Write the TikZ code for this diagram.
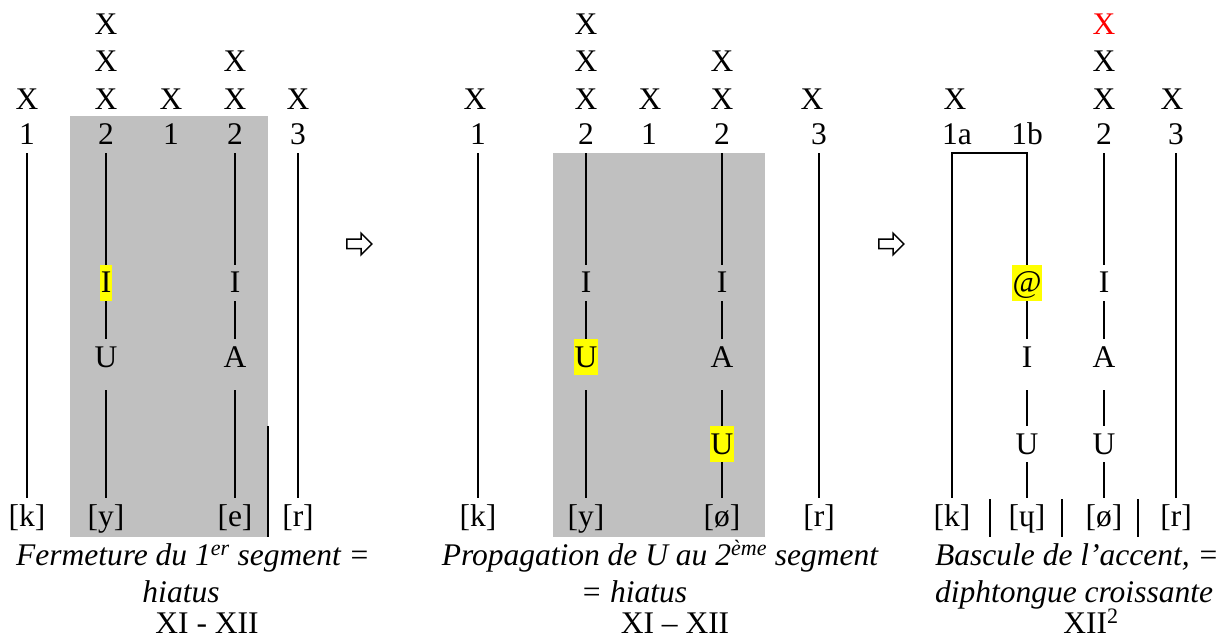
\documentclass[tikz,border=0pt]{standalone}
\usepackage{fontspec}
\setmainfont{Liberation Serif}
\usepackage{tikz}
\usetikzlibrary{shapes.arrows,calc}
\definecolor{Shade}{HTML}{C0C0C0}
\definecolor{Mark}{HTML}{FFFF00}
\definecolor{Accent}{HTML}{FF0000}

\begin{document}
\begin{tikzpicture}[x=1pt,y=-1pt,
  seg/.style={inner xsep=0.5pt,inner ysep=0pt,text height=28pt,text depth=8pt,anchor=base,font=\fontsize{31.5}{36}\selectfont},
  legend/.style={inner sep=0pt,anchor=base,font=\fontsize{31.5}{36}\selectfont\itshape},
  hl/.style={fill=Mark},
  stem/.style={line width=2pt},
  low/.style={shorten <=15pt},
  shade/.style={fill=Shade,draw=none},
  go/.style={single arrow,draw,line width=1.5pt,inner xsep=0pt,inner ysep=4pt,minimum height=25pt,single arrow head extend=6pt}
]
  \useasboundingbox (0,0) rectangle (1231,644);

  % panel 1
  \fill[shade] (70,116) rectangle (268,537);
  \draw[stem] (268,426) -- (268,537);
  \node[seg] (a1x) at (27,110) {X};
  \node[seg] (a2x) at (106,110) {X};
  \node[seg] (a2xx) at (106,72) {X};
  \node[seg] (a2xxx) at (106,35) {X};
  \node[seg] (a3x) at (171,110) {X};
  \node[seg] (a4x) at (235,110) {X};
  \node[seg] (a4xx) at (235,72) {X};
  \node[seg] (a5x) at (298,110) {X};
  \node[seg] (a1n) at (27,145) {1};
  \node[seg] (a2n) at (106,145) {2};
  \node[seg] (a3n) at (171,145) {1};
  \node[seg] (a4n) at (235,145) {2};
  \node[seg] (a5n) at (298,145) {3};
  \node[seg,hl] (a2i) at (106,293) {I};
  \node[seg] (a2u) at (106,367) {U};
  \node[seg] (a4i) at (235,293) {I};
  \node[seg] (a4a) at (235,367) {A};
  \node[seg] (a1b) at (27,526) {[k]};
  \node[seg] (a2b) at (106,526) {[y]};
  \node[seg] (a4b) at (235,526) {[e]};
  \node[seg] (a5b) at (298,526) {[r]};
  \draw[stem] (a1n) -- (a1b);
  \draw[stem] (a2n) -- (a2i) -- (a2u);
  \draw[stem,low] (a2u) -- (a2b);
  \draw[stem] (a4n) -- (a4i) -- (a4a);
  \draw[stem,low] (a4a) -- (a4b);
  \draw[stem] (a5n) -- (a5b);
  \node[legend] (leg1a) at (193,565) {Fermeture du 1\textsuperscript{er} segment =};
  \node[legend] (leg1b) at (181,602) {hiatus};
  \node[legend] (leg1c) at (207,633) {\upshape XI - XII};

  \node[go] (go1) at (357,244) {};

  % panel 2
  \fill[shade] (553,153) rectangle (765,537);
  \node[seg] (b1x) at (475,110) {X};
  \node[seg] (b2x) at (586,110) {X};
  \node[seg] (b2xx) at (586,72) {X};
  \node[seg] (b2xxx) at (586,35) {X};
  \node[seg] (b3x) at (650,110) {X};
  \node[seg] (b4x) at (722,110) {X};
  \node[seg] (b4xx) at (722,72) {X};
  \node[seg] (b5x) at (812,110) {X};
  \node[seg] (b1n) at (478,145) {1};
  \node[seg] (b2n) at (586,145) {2};
  \node[seg] (b3n) at (649,145) {1};
  \node[seg] (b4n) at (722,145) {2};
  \node[seg] (b5n) at (819,145) {3};
  \node[seg] (b2i) at (586,293) {I};
  \node[seg,hl] (b2u) at (586,367) {U};
  \node[seg] (b4i) at (722,293) {I};
  \node[seg] (b4a) at (722,367) {A};
  \node[seg,hl] (b4u) at (722,454) {U};
  \node[seg] (b1b) at (478,526) {[k]};
  \node[seg] (b2b) at (586,526) {[y]};
  \node[seg] (b4b) at (722,526) {[ø]};
  \node[seg] (b5b) at (819,526) {[r]};
  \draw[stem] (b1n) -- (b1b);
  \draw[stem] (b2n) -- (b2i) -- (b2u);
  \draw[stem,low] (b2u) -- (b2b);
  \draw[stem] (b4n) -- (b4i) -- (b4a);
  \draw[stem,low] (b4a) -- (b4u);
  \draw[stem] (b4u) -- (b4b);
  \draw[stem] (b5n) -- (b5b);
  \node[legend] (leg2a) at (660,565) {Propagation de U au 2\textsuperscript{ème} segment};
  \node[legend] (leg2b) at (634,602) {= hiatus};
  \node[legend] (leg2c) at (675,633) {\upshape XI – XII};

  \node[go] (go2) at (889,244) {};

  % panel 3
  \node[seg] (c1x) at (955,110) {X};
  \node[seg] (c2x) at (1104,110) {X};
  \node[seg] (c2xx) at (1104,72) {X};
  \node[seg,text=Accent] (c2xxx) at (1104,35) {X};
  \node[seg] (c3x) at (1172,110) {X};
  \node[seg] (c1an) at (957,145) {1a};
  \node[seg] (c1bn) at (1027,145) {1b};
  \node[seg] (c2n) at (1104,145) {2};
  \node[seg] (c3n) at (1176,145) {3};
  \node[seg,hl] (c1at) at (1027,293) {@};
  \node[seg] (c1i) at (1027,367) {I};
  \node[seg] (c1u) at (1027,454) {U};
  \node[seg] (c2i) at (1104,293) {I};
  \node[seg] (c2a) at (1104,367) {A};
  \node[seg] (c2u) at (1104,454) {U};
  \node[seg] (c1k) at (952,526) {[k]};
  \node[seg] (c1b) at (1027,526) {[ɥ]};
  \node[seg] (c2b) at (1104,526) {[ø]};
  \node[seg] (c3b) at (1176,526) {[r]};
  \draw[stem] (c1k) |- (c1bn.south) -- (c1at);
  \draw[stem] (c1at) -- (c1i);
  \draw[stem,low] (c1i) -- (c1u);
  \draw[stem] (c1u) -- (c1b);
  \draw[stem] (c2n) -- (c2i) -- (c2a);
  \draw[stem,low] (c2a) -- (c2u);
  \draw[stem] (c2u) -- (c2b);
  \draw[stem] (c3n) -- (c3b);
  \foreach \x in {990,1062,1138}
    \draw[stem] (\x,499) -- (\x,537);
  \node[legend] (leg3a) at (1077,565) {Bascule de l’accent, =};
  \node[legend] (leg3b) at (1074,602) {diphtongue croissante};
  \node[legend] (leg3c) at (1091,633) {\upshape XII\textsuperscript{2}};
\end{tikzpicture}
\end{document}
